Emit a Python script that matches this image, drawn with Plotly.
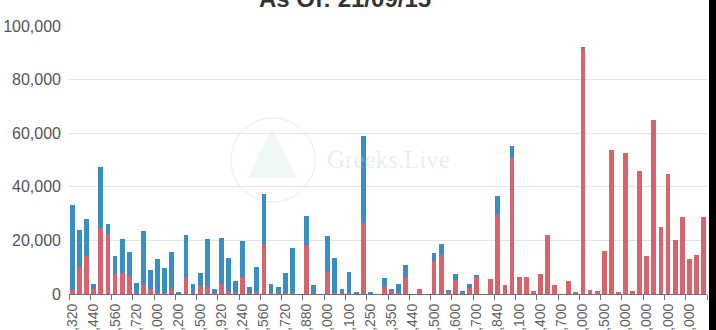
import plotly.graph_objects as go

# ---- data ----
STRIKES = [1320, 1360, 1400, 1440, 1480, 1520, 1560, 1600, 1680, 1720,
           1800, 1900, 2000, 2100, 2150, 2200, 2300, 2400, 2500, 2600,
           2800, 2920, 3000, 3100, 3240, 3300, 3400, 3560, 3600, 3680,
           3720, 3760, 3800, 3880, 3900, 3960, 4000, 4040, 4080, 4100,
           4160, 4200, 4250, 4280, 4300, 4350, 4380, 4400, 4440, 4460,
           4480, 4500, 4520, 4560, 4600, 4640, 4680, 4700, 4760, 4800,
           4840, 4900, 5000, 5100, 5200, 5300, 5400, 5500, 5600, 5700,
           5800, 5900, 6000, 6200, 6400, 6500, 6800, 6900, 7000, 7500,
           7800, 8000, 8500, 8800, 9000, 9500, 9800, 10000, 12000, 15000]
CATEGORIES = [f"{s:,}" for s in STRIKES]

RED_VALUES = [1400, 9900, 14300, 2000, 24700, 22500, 7300, 7700, 6900, 500,
              3500, 2000, 500, 500, 1700, 200, 5800, 300, 2900, 2600,
              300, 3600, 1000, 300, 6300, 500, 900, 18750, 300, 300,
              300, 300, 0, 18400, 300, 0, 8250, 500, 300, 500,
              200, 26600, 300, 0, 2500, 1200, 300, 6500, 0, 1700,
              0, 12400, 14500, 1000, 5250, 500, 2400, 6500, 0, 5500,
              29600, 3250, 50600, 6500, 6250, 1100, 7300, 22000, 3400, 0,
              5000, 400, 91400, 1500, 1250, 16000, 53700, 900, 52600, 1000,
              45750, 14000, 65000, 25100, 44750, 20100, 28900, 13000, 14500, 28750]

BLUE_VALUES = [31800, 13800, 13800, 1600, 22600, 3500, 6900, 12900, 8900, 3600,
               20000, 6800, 12500, 9200, 14100, 300, 16100, 3400, 4900, 18000,
               1600, 17300, 12300, 4500, 13600, 2200, 9000, 18750, 3300, 2200,
               7700, 16950, 0, 10850, 2950, 0, 13250, 13000, 1700, 7700,
               400, 32300, 600, 0, 3300, 700, 3300, 4500, 0, 0,
               0, 2800, 4100, 400, 2250, 250, 1350, 250, 0, 0,
               7150, 0, 4650, 0, 0, 0, 0, 0, 0, 0,
               0, 0, 800, 0, 0, 0, 0, 0, 0, 0,
               0, 0, 0, 0, 0, 0, 0, 0, 0, 0]

TITLE = "As Of: 21/09/15"
RED = "#d9636c"
BLUE = "#3a8ec6"

# figure is 709px wide; the remaining 7px of the 716px window show the
# black page background, like the dark strip on the reference's right edge
W, H = 709, 330
L, R, T, B = 69, 2, 26, 36
PW = W - L - R
PH = H - T - B


def px(xp):
    # page x pixel -> paper x
    return (xp - L) / PW


def py(yp):
    # page y pixel -> paper y
    return (H - B - yp) / PH


fig = go.Figure()
fig.add_trace(go.Bar(x=CATEGORIES, y=RED_VALUES, marker_color=RED,
                     marker_line_width=0, name="red"))
fig.add_trace(go.Bar(x=CATEGORIES, y=BLUE_VALUES, marker_color=BLUE,
                     marker_line_width=0, name="blue"))

fig.update_layout(
    width=W, height=H, autosize=False,
    margin=dict(l=L, r=R, t=T, b=B, pad=0),
    paper_bgcolor="white", plot_bgcolor="white",
    barmode="stack", bargap=0.32,
    showlegend=False,
    font=dict(family="Liberation Sans, Arial, sans-serif"),
    xaxis=dict(
        type="category", tickmode="linear", tick0=0, dtick=3,
        tickson="boundaries", ticks="outside", ticklen=5, tickwidth=1,
        tickcolor="#6e7079", showline=True, linecolor="#6e7079", linewidth=1,
        showgrid=False, tickangle=-90, automargin=False,
        ticklabelstandoff=3,
        tickfont=dict(size=14, color="#5f5f5f"),
    ),
    yaxis=dict(
        range=[0, 100000], tickmode="linear", tick0=0, dtick=20000,
        tickformat=",", showgrid=True, gridcolor="#e4e4e4", gridwidth=1,
        zeroline=False, showline=False, automargin=False,
        ticklabelstandoff=7,
        tickfont=dict(size=16, color="#555555"),
    ),
)

# title (partially cut off at the top, as in the reference)
fig.add_annotation(text=f"<b>{TITLE}</b>", xref="paper", yref="paper",
                   x=px(345), y=1, xanchor="center", yanchor="bottom",
                   yshift=12, showarrow=False,
                   font=dict(size=24, color="#333333",
                             family="Liberation Sans, Arial, sans-serif"))

# faint watermark
fig.add_annotation(text="Greeks.Live", xref="paper", yref="paper",
                   x=px(388), y=py(159),
                   xanchor="center", yanchor="middle", showarrow=False,
                   font=dict(size=25, color="rgba(190,210,210,0.35)",
                             family="Liberation Serif, serif"))
fig.add_shape(type="circle", xref="paper", yref="paper",
              x0=px(231), x1=px(315), y0=py(202), y1=py(118),
              line=dict(color="rgba(200,220,220,0.35)", width=1.5),
              layer="below")
fig.add_shape(type="path", xref="paper", yref="paper",
              path=(f"M {px(272)} {py(128)} L {px(297)} {py(178)} "
                    f"L {px(248)} {py(178)} Z"),
              fillcolor="rgba(170,215,205,0.18)", line=dict(width=0),
              layer="below")

# remove the default page margin; black page background for the edge strip
fig.write_html(
    "out.html",
    config={"displayModeBar": False},
    post_script=("document.body.style.margin='0';"
                 "document.body.style.background='black';"
                 "document.documentElement.style.background='black';"),
)
